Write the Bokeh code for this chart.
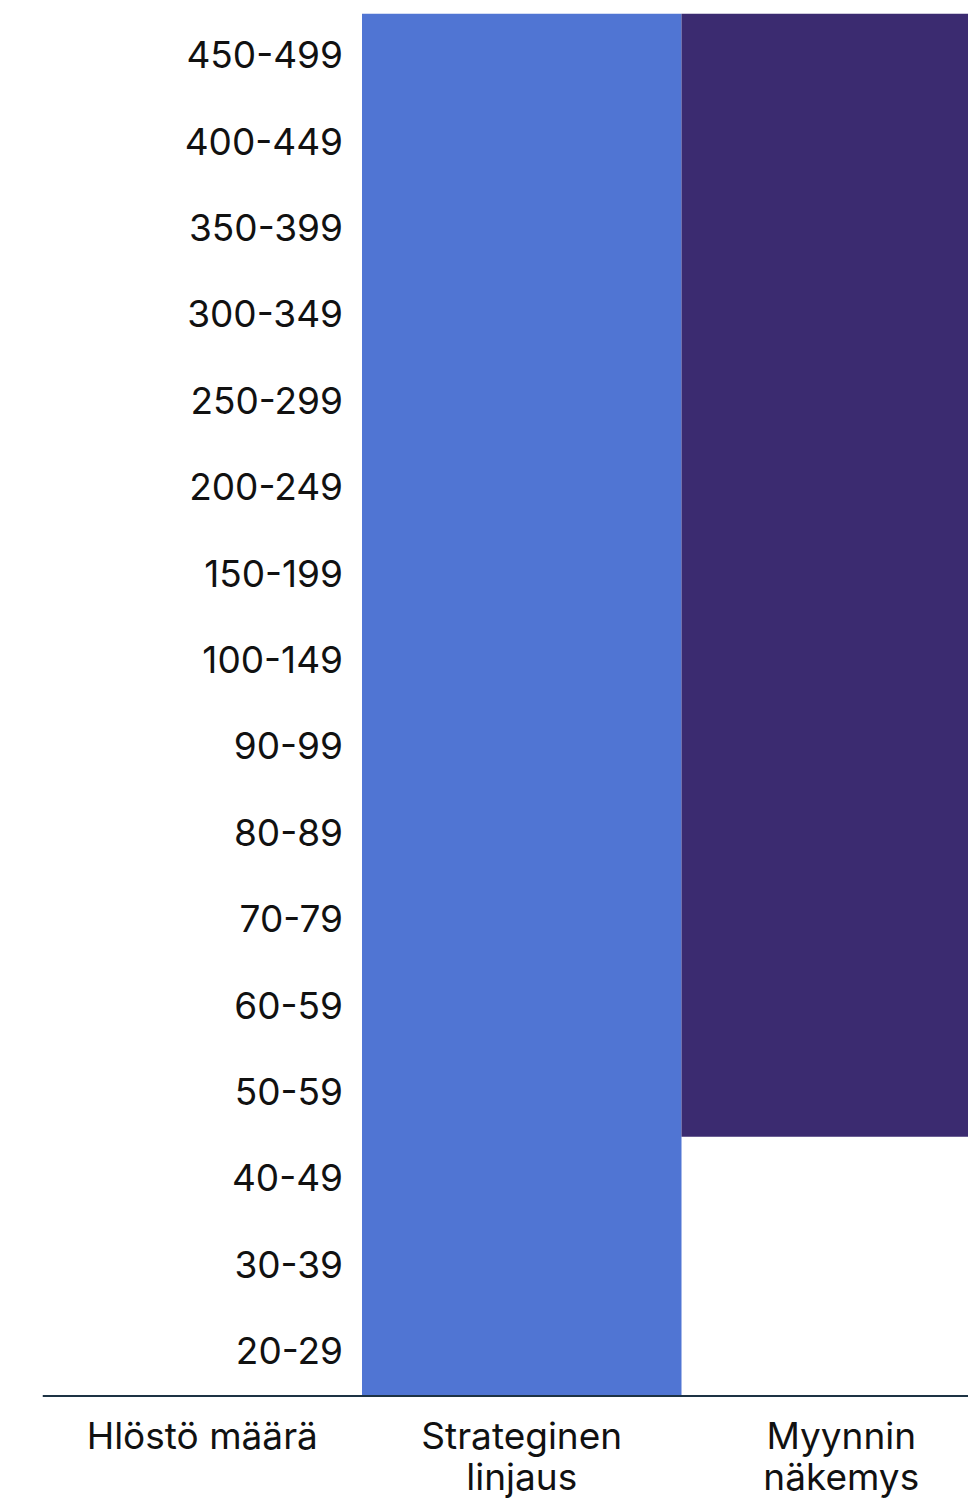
from bokeh.plotting import figure
from bokeh.models import Range1d, ColumnDataSource, Span
from bokeh.core.properties import value
from bokeh.embed import file_html
from bokeh.resources import INLINE

# ---- data ----
categories = ["20-29", "30-39", "40-49", "50-59", "60-59", "70-79", "80-89", "90-99",
              "100-149", "150-199", "200-249", "250-299", "300-349", "350-399",
              "400-449", "450-499"]
column_line1 = ["Hlöstö määrä", "Strateginen", "Myynnin"]
column_line2 = ["", "linjaus", "näkemys"]
series_names = ["Strateginen linjaus", "Myynnin näkemys"]
series_from = ["20-29", "50-59"]
series_to = ["450-499", "450-499"]
series_colors = ["#5075d3", "#3b2b70"]

FONT = "Inter"

# layout geometry (pixels)
W, H = 968, 1500
TOP, LEFT = 13, 42
ROW_PX = 86.4
COL_PX = 319.5
n = len(categories)
below_rows = (H - TOP - n * ROW_PX) / ROW_PX

p = figure(width=W, height=H, output_backend="svg", toolbar_location=None,
           x_range=Range1d(0, (W - LEFT) / COL_PX), y_range=Range1d(-below_rows, n),
           min_border_left=LEFT, min_border_right=0, min_border_top=TOP, min_border_bottom=0)
p.outline_line_color = None
p.xgrid.grid_line_color = None
p.ygrid.grid_line_color = None
p.xaxis.visible = False
p.yaxis.visible = False

# bars
src = ColumnDataSource(dict(
    left=[float(i + 1) for i in range(len(series_names))],
    right=[float(i + 2) for i in range(len(series_names))],
    bottom=[float(categories.index(a)) for a in series_from],
    top=[float(categories.index(b) + 1) for b in series_to],
    color=series_colors,
))
p.quad(left="left", right="right", bottom="bottom", top="top", fill_color="color",
       line_color=None, source=src)

# baseline
p.add_layout(Span(location=0, dimension="width", line_color="#1d3344", line_width=2))

# row labels in first column
lab = ColumnDataSource(dict(x=[1.0] * n, y=[i + 0.5 for i in range(n)], text=categories))
p.text(x="x", y="y", text="text", source=lab, text_align="right", text_baseline="middle",
       x_offset=-19, y_offset=-2, text_font=value(FONT), text_font_size="37px",
       text_color="#111111")

# column labels below the baseline
xs = [i + 0.5 for i in range(len(column_line1))]
c1 = ColumnDataSource(dict(x=xs, y=[0.0] * len(xs), text=column_line1))
p.text(x="x", y="y", text="text", source=c1, text_align="center", text_baseline="alphabetic",
       y_offset=40, text_font=value(FONT), text_font_size="37px", text_color="#111111")
idx2 = [i for i, t in enumerate(column_line2) if t]
c2 = ColumnDataSource(dict(x=[xs[i] for i in idx2], y=[0.0] * len(idx2),
                           text=[column_line2[i] for i in idx2]))
p.text(x="x", y="y", text="text", source=c2, text_align="center", text_baseline="alphabetic",
       y_offset=81, text_font=value(FONT), text_font_size="37px", text_color="#111111")

open("out.html", "w").write(file_html(p, INLINE))
